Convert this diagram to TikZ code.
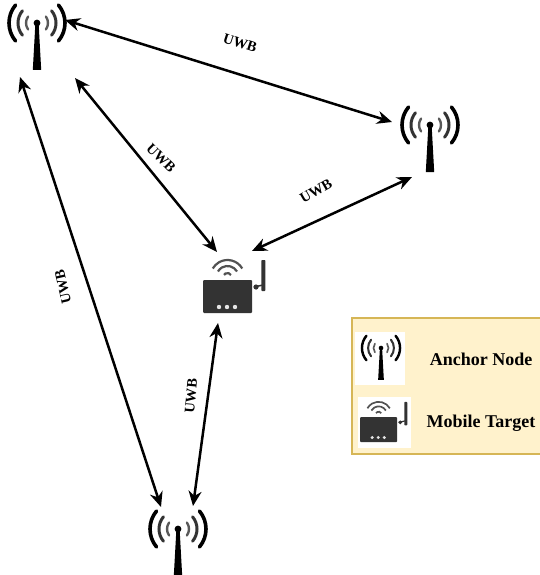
\documentclass[tikz,border=0pt]{standalone}
\usepackage{fontspec}
\setmainfont{Liberation Serif}
\usetikzlibrary{arrows.meta}
\definecolor{legendfill}{HTML}{FFF2CC}
\definecolor{legendline}{HTML}{D6B656}
\definecolor{boxdark}{HTML}{333333}
\tikzset{
  x=1pt,y=-1pt,
  link/.style={draw=black,line width=2.5pt,{Stealth[length=15pt,width=13pt]}-{Stealth[length=15pt,width=13pt]}},
  lbl/.style={font=\bfseries\fontsize{14.5}{16}\selectfont,inner sep=1pt},
  legendtxt/.style={font=\bfseries\fontsize{18}{20}\selectfont,inner sep=0pt},
  spot/.style={inner sep=0pt,minimum size=1pt},
  pics/tower/.style={code={
    \fill[black] (-1.6,0) -- (1.6,0) -- (4.2,47) -- (-4.2,47) -- cycle;
    \fill[black] (0,0) circle (3.4);
    \foreach \r/\w/\a/\g in {11/2.4/36/65,19/3/40/80,28/3.6/40/100}{
      \draw[black!\g!white,line width=#1*\w pt,line cap=round] (\a:\r) arc[start angle=\a,end angle=-\a,radius=\r];
      \draw[black!\g!white,line width=#1*\w pt,line cap=round] (180-\a:\r) arc[start angle=180-\a,end angle=180+\a,radius=\r];
    }
  }},
  pics/tower/.default=1,
  pics/router/.style={code={
    \fill[boxdark,rounded corners=1pt] (0,0) rectangle (49,33);
    \foreach \i in {16,24,32}{\fill[white!90!black] (\i,27) circle (2.2);}
    \fill[boxdark] (53,7) circle (2.6);
    \draw[boxdark,line width=#1*1.5pt] (51,7) -- (60,5);
    \fill[boxdark,rounded corners=.8pt] (58.3,-20) rectangle (62.3,11);
    \foreach \r in {17,11,4}{
      \draw[boxdark!85!white,line width=#1*2.2pt] ({24.5+\r*cos(30)},{-3-\r*sin(30)}) arc[start angle=-30,end angle=-150,radius=\r];
    }
  }},
  pics/router/.default=1
}
\begin{document}
\begin{tikzpicture}
\useasboundingbox (0,0) rectangle (539,575);
\fill[white] (0,0) rectangle (539,575);
% towers
\node[spot] (anchorA) at (37,23) {};
\node[spot] (anchorB) at (430,125) {};
\node[spot] (anchorC) at (178,529) {};
\node[spot] (target) at (203,280) {};
\pic at (anchorA) {tower};
\pic at (anchorB) {tower};
\pic at (anchorC) {tower};
\pic at (target) {router};
% connector ends
\coordinate (ab1) at (65,20);
\coordinate (ab2) at (392,122);
\coordinate (at1) at (75,78);
\coordinate (at2) at (217,252);
\coordinate (ac1) at (20,77);
\coordinate (ac2) at (161,507);
\coordinate (bt1) at (412,177);
\coordinate (bt2) at (252,251);
\coordinate (tc1) at (218,323);
\coordinate (tc2) at (193,506);
\draw[link] (ab1) -- (ab2);
\draw[link] (at1) -- (at2);
\draw[link] (ac1) -- (ac2);
\draw[link] (bt1) -- (bt2);
\draw[link] (tc1) -- (tc2);
% labels
\node[lbl,rotate=-18] (l1) at (240,43) {UWB};
\node[lbl,rotate=-45] (l2) at (161,158) {UWB};
\node[lbl,rotate=30] (l3) at (316,191) {UWB};
\node[lbl,rotate=103] (l4) at (63,287) {UWB};
\node[lbl,rotate=85] (l5) at (191,396) {UWB};
% legend
\draw[legendline,fill=legendfill,line width=1.6pt] (352,318) rectangle (542,454);
\fill[white] (355,332) rectangle (405,385);
\fill[white] (358,397) rectangle (411,448);
\node[spot] (legendA) at (381,348) {};
\node[spot] (legendT) at (360,417) {};
\pic[scale=.68] at (legendA) {tower=.68};
\pic[scale=.76] at (legendT) {router=.76};
\node[legendtxt] (t1) at (481,359) {Anchor Node};
\node[legendtxt] (t2) at (481,423) {Mobile Target};
\end{tikzpicture}
\end{document}
